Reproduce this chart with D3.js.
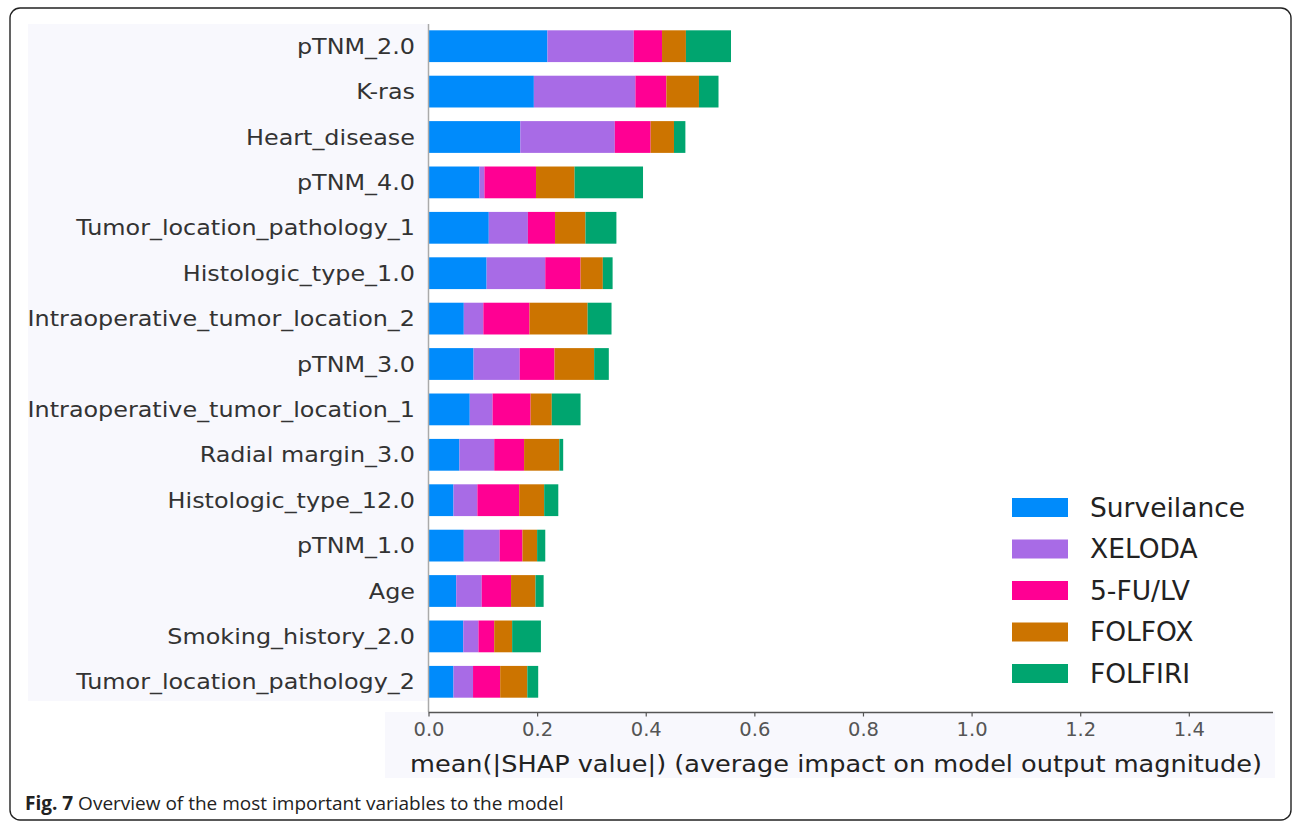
<!DOCTYPE html>
<html>
<head>
<meta charset="utf-8">
<script src="https://cdn.jsdelivr.net/npm/d3@7/dist/d3.min.js"></script>
<style>
  html, body { margin: 0; padding: 0; background: #ffffff; }
  svg { display: block; }
</style>
</head>
<body>
<svg id="chart" width="1292" height="822"></svg>
<script>
// Features, top to bottom (most important first)
const features = [
  "pTNM_2.0", "K-ras", "Heart_disease", "pTNM_4.0", "Tumor_location_pathology_1",
  "Histologic_type_1.0", "Intraoperative_tumor_location_2", "pTNM_3.0",
  "Intraoperative_tumor_location_1", "Radial margin_3.0", "Histologic_type_12.0",
  "pTNM_1.0", "Age", "Smoking_history_2.0", "Tumor_location_pathology_2"
];

// Treatment classes (stack order, left to right)
const classes = ["Surveilance", "XELODA", "5-FU/LV", "FOLFOX", "FOLFIRI"];
const classColors = ["#008bfb", "#a86be6", "#ff0093", "#cc7400", "#00a56f"];

// mean(|SHAP value|) per feature for each class
const surveilance = [0.219, 0.194, 0.169, 0.094, 0.111, 0.107, 0.065, 0.083, 0.076, 0.057, 0.046, 0.065, 0.051, 0.064, 0.046];
const xeloda      = [0.159, 0.187, 0.174, 0.009, 0.072, 0.108, 0.036, 0.085, 0.042, 0.064, 0.044, 0.066, 0.047, 0.028, 0.036];
const fuLv        = [0.052, 0.057, 0.066, 0.095, 0.050, 0.065, 0.085, 0.064, 0.070, 0.055, 0.077, 0.042, 0.054, 0.029, 0.050];
const folfox      = [0.044, 0.060, 0.043, 0.071, 0.056, 0.041, 0.107, 0.073, 0.039, 0.065, 0.046, 0.027, 0.045, 0.033, 0.050];
const folfiri     = [0.083, 0.036, 0.021, 0.126, 0.057, 0.018, 0.044, 0.027, 0.053, 0.007, 0.026, 0.015, 0.015, 0.053, 0.020];

const xTicks = [0.0, 0.2, 0.4, 0.6, 0.8, 1.0, 1.2, 1.4];
const xLabel = "mean(|SHAP value|) (average impact on model output magnitude)";

const series = [surveilance, xeloda, fuLv, folfox, folfiri];
const rows = features.map((f, i) => {
  const r = { feature: f };
  classes.forEach((c, k) => { r[c] = series[k][i]; });
  return r;
});

const svg = d3.select("#chart");
const panelFill = "#f8f8fd";

// frame around the figure
svg.append("rect")
  .attr("x", 10).attr("y", 8).attr("width", 1281).attr("height", 812)
  .attr("rx", 10).attr("ry", 10)
  .attr("fill", "#ffffff").attr("stroke", "#222").attr("stroke-width", 1.4);

// light panels behind labels and axis
svg.append("rect").attr("x", 28).attr("y", 24).attr("width", 401).attr("height", 677).attr("fill", panelFill);
svg.append("rect").attr("x", 385).attr("y", 712).attr("width", 890).attr("height", 66).attr("fill", panelFill);

const x = d3.scaleLinear().domain([0, 1.555]).range([428.5, 1273]);
const y = d3.scaleBand().domain(features).range([23.5, 704.5])
  .paddingInner(0.3).paddingOuter(0.15);

const stack = d3.stack().keys(classes);
const stacked = stack(rows);
const color = d3.scaleOrdinal().domain(classes).range(classColors);

const barsG = svg.append("g");
barsG.selectAll("g.layer")
  .data(stacked)
  .join("g")
  .attr("class", "layer")
  .attr("fill", d => color(d.key))
  .selectAll("rect")
  .data(d => d)
  .join("rect")
  .attr("x", d => x(d[0]))
  .attr("width", d => x(d[1]) - x(d[0]))
  .attr("y", d => y(d.data.feature))
  .attr("height", y.bandwidth());

// vertical spine at zero
svg.append("line")
  .attr("x1", x(0)).attr("x2", x(0)).attr("y1", 24).attr("y2", 712)
  .attr("stroke", "#aaaaaa").attr("stroke-width", 1.5);

// feature labels (slightly widened to match the figure's typography)
const labelG = svg.append("g");
features.forEach(f => {
  const t = labelG.append("text")
    .attr("x", 415)
    .attr("y", y(f) + y.bandwidth() / 2)
    .attr("dy", "0.35em")
    .attr("text-anchor", "end")
    .attr("font-family", "DejaVu Sans")
    .attr("font-size", 21.5)
    .attr("fill", "#333")
    .text(f);
  const w = t.node().getComputedTextLength();
  t.attr("textLength", w * 1.11).attr("lengthAdjust", "spacingAndGlyphs");
});

// x axis
const xAxis = d3.axisBottom(x).tickValues(xTicks).tickFormat(d3.format(".1f")).tickSize(4).tickPadding(6);
const axG = svg.append("g").attr("transform", "translate(0,712.5)").call(xAxis);
axG.select(".domain").attr("stroke", "#555").attr("stroke-width", 1.5)
  .attr("d", `M${x(0)},0H${x.range()[1]}`);
axG.selectAll(".tick line").attr("stroke", "#555").attr("stroke-width", 1.2);
axG.selectAll(".tick text")
  .attr("font-family", "DejaVu Sans").attr("font-size", 19.5).attr("fill", "#555");

const xl = svg.append("text")
  .attr("x", 836).attr("y", 764).attr("dy", "0.35em")
  .attr("text-anchor", "middle")
  .attr("font-family", "DejaVu Sans").attr("font-size", 23).attr("fill", "#222")
  .text(xLabel);
xl.attr("textLength", 852).attr("lengthAdjust", "spacingAndGlyphs");

// legend
const lg = svg.append("g");
classes.forEach((c, k) => {
  const cy = 507.5 + k * 41.5;
  lg.append("rect")
    .attr("x", 1012).attr("y", cy - 9.5).attr("width", 56).attr("height", 19)
    .attr("fill", color(c));
  lg.append("text")
    .attr("x", 1090).attr("y", cy).attr("dy", "0.35em")
    .attr("font-family", "DejaVu Sans").attr("font-size", 26.5).attr("fill", "#222")
    .text(c);
});

// caption
const cap = svg.append("text")
  .attr("x", 25).attr("y", 810)
  .attr("font-family", "Open Sans").attr("font-size", 19).attr("fill", "#222");
cap.append("tspan").attr("font-weight", "bold").text("Fig. 7");
cap.append("tspan").text(" Overview of the most important variables to the model");
</script>
</body>
</html>
